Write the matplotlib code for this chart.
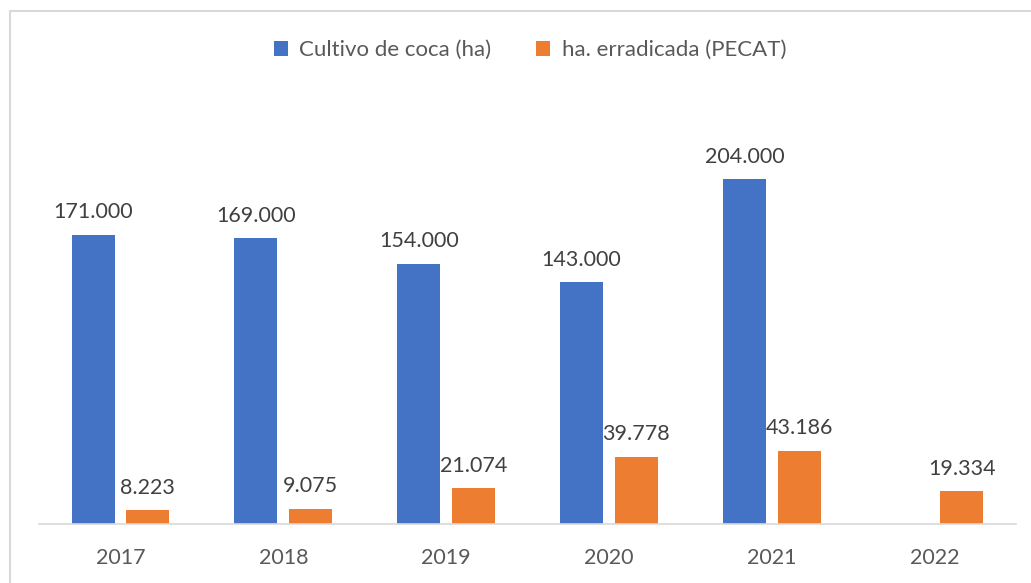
import matplotlib.pyplot as plt
import matplotlib.patches as patches
import numpy as np

years = ['2017', '2018', '2019', '2020', '2021', '2022']
cultivo = [171000, 169000, 154000, 143000, 204000, None]
erradicada = [8223, 9075, 21074, 39778, 43186, 19334]

blue = '#4472c4'
orange = '#ed7d31'
grey = '#595959'

plt.rcParams['font.family'] = ['Lato', 'DejaVu Sans']


def fmt(v):
    # thousands with a dot, like the Spanish Excel chart
    return f'{v:,}'.replace(',', '.')


fig = plt.figure(figsize=(10.31, 5.83), dpi=100)
ax = fig.add_axes([39 / 1031, 59 / 583, 977 / 1031, 0.7249])

x = np.arange(len(years))
w = 0.264
off = 0.168

xb = [i for i, v in zip(x, cultivo) if v is not None]
vb = [v for v in cultivo if v is not None]
b1 = ax.bar(np.array(xb) - off, vb, w, color=blue, label='Cultivo de coca (ha)')
b2 = ax.bar(x + off, erradicada, w, color=orange, label='ha. erradicada (PECAT)')

ax.bar_label(b1, labels=[fmt(v) for v in vb], padding=9, fontsize=15.5, color='#404040')
ax.bar_label(b2, labels=[fmt(v) for v in erradicada], padding=9, fontsize=15.5, color='#404040')

ax.set_xlim(-0.5, 5.5)
ax.set_ylim(0, 250000)
ax.set_xticks(x)
ax.set_xticklabels(years, fontsize=15.5, color=grey)
ax.tick_params(axis='x', length=0, pad=17)
ax.set_yticks([])
for s in ['top', 'right', 'left']:
    ax.spines[s].set_visible(False)
ax.spines['bottom'].set_color('#d9d9d9')
ax.spines['bottom'].set_linewidth(1.2)

leg = fig.legend(handles=[b1, b2], loc='center', bbox_to_anchor=(530 / 1031, 1 - 50 / 583),
                 ncol=2, frameon=False, fontsize=16, handlelength=0.65, handleheight=0.65,
                 handletextpad=0.5, columnspacing=2.0)
for t in leg.get_texts():
    t.set_color(grey)

# chart border
fig.patches.append(patches.Rectangle((10 / 1031, -0.1), 1.2, 1.1 - 11 / 583, transform=fig.transFigure,
                                     fill=False, edgecolor='#d9d9d9', linewidth=1.5))

fig.savefig('out.png', dpi=100)
